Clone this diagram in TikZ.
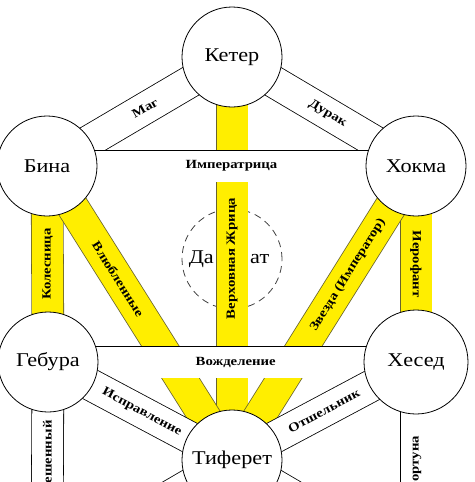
\documentclass[tikz,border=0pt]{standalone}
\usepackage{fontspec}
\setmainfont{Liberation Serif}
\newfontfamily\sefirafont[FakeStretch=1.14]{Liberation Serif}
\newfontfamily\tarotfont[FakeStretch=1.18]{Liberation Serif}
\usepackage{tikz}
\usetikzlibrary{
        backgrounds,
        positioning
    }
\definecolor{bandyellow}{RGB}{255,238,0}
\definecolor{bandedge}{RGB}{105,100,45}

\begin{document}
\begin{tikzpicture}
[x=1pt, y=-1pt,
sefira/.style={circle, minimum size=100pt, inner sep=0pt, draw=black, fill=white, line width=0.8pt, font=\sefirafont\fontsize{19.5}{20}\selectfont},
whiteband/.style={draw=black, line width=0.8pt, double=white, double distance=31pt},
yellowband/.style={whiteband, draw=bandedge, double=bandyellow},
tarot/.style={inner sep=0pt, font=\tarotfont\fontsize{12.5}{12.5}\selectfont\bfseries},
]
\useasboundingbox (0,0) rectangle (474,482);
\clip (0,0) rectangle (474,482);
\node (keter) [sefira] at (232,57) {Кетер};
\node (bina) [sefira] at (47,166) {Бина};
\node (hokhma) [sefira] at (416,166) {Хокма};
\node (gebura) [sefira] at (48,362) {Гебура};
\node (hesed) [sefira, minimum size=104pt] at (416,362) {Хесед};
\node (tiferet) [sefira] at (232,460) {Тиферет};
\coordinate (hod) at (47,568);
\coordinate (netzach) at (416,568);

\begin{scope}[on background layer]
\clip (0,0) rectangle (474,482);
\node (daat) [circle, minimum size=100pt, draw=black!75, line width=0.8pt, dash pattern=on 7pt off 5pt] at (232,259) {};
\node (da) [left=18pt of daat.center, inner sep=0pt, font=\sefirafont\fontsize{19.5}{20}\selectfont] {Да};
\node (at) [right=18pt of daat.center, inner sep=0pt, font=\sefirafont\fontsize{19.5}{20}\selectfont] {ат};

\draw[yellowband] (keter.center) -- node[tarot, rotate=90]{Верховная Жрица} (tiferet.center);
\draw[yellowband] (bina.center) -- node[tarot, rotate=90]{Колесница} (gebura.center);
\draw[yellowband] (hokhma.center) -- node[tarot, rotate=-90]{Иерофант} (hesed.center);
\draw[yellowband] (bina.center) -- node[tarot, pos=0.385, rotate=-58]{Влюбленные} (tiferet.center);
\draw[yellowband] (hokhma.center) -- node[tarot, pos=0.37, rotate=58]{Звезда (Император)} (tiferet.center);

\draw[whiteband] (bina.center) -- node[tarot, pos=0.53, rotate=30]{Маг} (keter.center);
\draw[whiteband] (keter.center) -- node[tarot, pos=0.52, rotate=-30]{Дурак} (hokhma.center);
\draw[whiteband] (bina.center) -- node[tarot]{Императрица} (hokhma.center);
\draw[whiteband] (gebura.center) -- node[tarot, pos=0.51]{Вожделение} (hesed.center);
\draw[whiteband] (gebura.center) -- node[tarot, pos=0.51, rotate=-28]{Исправление} (tiferet.center);
\draw[whiteband] (hesed.center) -- node[tarot, rotate=28]{Отшельник} (tiferet.center);
\draw[whiteband] (gebura.center) -- node[tarot, rotate=90]{Повешенный} (hod);
\draw[whiteband] (hesed.center) -- node[tarot, rotate=90]{Фортуна} (netzach);
\draw[whiteband] (tiferet.center) -- (hod);
\draw[whiteband] (tiferet.center) -- (netzach);
\end{scope}

\end{tikzpicture}
\end{document}
